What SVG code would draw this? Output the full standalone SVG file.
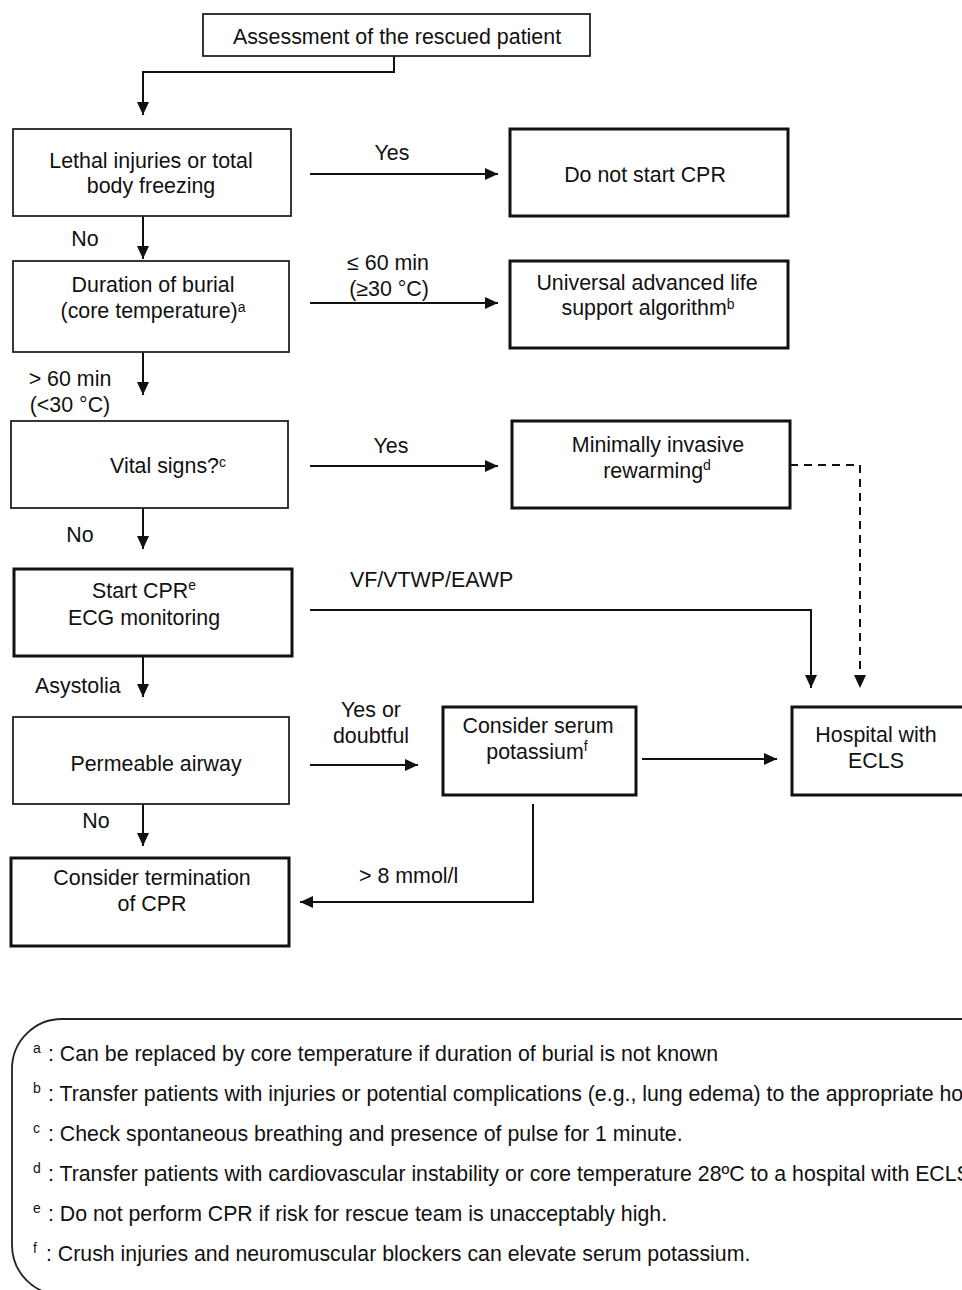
<svg xmlns="http://www.w3.org/2000/svg" width="962" height="1290" viewBox="0 0 962 1290">
<style>
text{font-family:"Liberation Sans",Arial,sans-serif;font-size:21.4px;fill:#111}
.mid{text-anchor:middle}
.thin{fill:#fff;stroke:#222;stroke-width:1.8}
.thick{fill:#fff;stroke:#111;stroke-width:3}
.con{fill:none;stroke:#111;stroke-width:2;marker-end:url(#ah)}
.dash{stroke-dasharray:8 6}
.sup{font-size:14px}
.fn{font-size:21.3px}
</style>
<defs>
<marker id="ah" viewBox="0 0 13 12" refX="13" refY="6" markerWidth="13" markerHeight="12" markerUnits="userSpaceOnUse" orient="auto">
<path d="M0,0 L13,6 L0,12 z" fill="#111"/>
</marker>
</defs>
<rect width="962" height="1290" fill="#fff"/>

<g id="connectors">
<path class="con" d="M394,56 V72 H143 V115"/>
<path class="con" d="M310,174 H498"/>
<path class="con" d="M143,216 V259"/>
<path class="con" d="M310,303 H498"/>
<path class="con" d="M143,352 V395"/>
<path class="con" d="M310,466 H498"/>
<path class="con" d="M143,508 V549"/>
<path class="con dash" d="M790,465 H860 V688"/>
<path class="con" d="M310,610 H811 V688"/>
<path class="con" d="M143,656 V697"/>
<path class="con" d="M310,765 H418"/>
<path class="con" d="M642,759 H777"/>
<path class="con" d="M143,804 V846"/>
<path class="con" d="M533,804 V902 H300"/>
</g>

<g id="labels">
<text class="mid" x="392" y="160">Yes</text>
<text class="mid" x="85" y="246">No</text>
<text class="mid" x="388" y="270">≤ 60 min</text>
<text class="mid" x="389" y="296">(≥30 °C)</text>
<text class="mid" x="70" y="386">&gt; 60 min</text>
<text class="mid" x="70" y="412">(&lt;30 °C)</text>
<text class="mid" x="391" y="453">Yes</text>
<text class="mid" x="80" y="542">No</text>
<text x="350" y="587">VF/VTWP/EAWP</text>
<text x="35" y="693">Asystolia</text>
<text class="mid" x="371" y="717">Yes or</text>
<text class="mid" x="371" y="743">doubtful</text>
<text class="mid" x="96" y="828">No</text>
<text x="359" y="883">&gt; 8 mmol/l</text>
</g>

<g id="n-assess">
<rect class="thin" x="203" y="14" width="387" height="42"/>
<text class="mid" x="397" y="44">Assessment of the rescued patient</text>
</g>

<g id="n-lethal">
<rect class="thin" x="13" y="129" width="278" height="87"/>
<text class="mid" x="151" y="168">Lethal injuries or total</text>
<text class="mid" x="151" y="193">body freezing</text>
</g>

<g id="n-donot">
<rect class="thick" x="510" y="129" width="278" height="87"/>
<text class="mid" x="645" y="182">Do not start CPR</text>
</g>

<g id="n-duration">
<rect class="thin" x="13" y="261" width="276" height="91"/>
<text class="mid" x="153" y="292">Duration of burial</text>
<text class="mid" x="153" y="318">(core temperature)<tspan class="sup" dy="-6">a</tspan></text>
</g>

<g id="n-universal">
<rect class="thick" x="510" y="261" width="278" height="87"/>
<text class="mid" x="647" y="290">Universal advanced life</text>
<text class="mid" x="648" y="315">support algorithm<tspan class="sup" dy="-6">b</tspan></text>
</g>

<g id="n-vital">
<rect class="thin" x="11" y="421" width="277" height="87"/>
<text x="110" y="473">Vital signs?<tspan class="sup" dy="-6">c</tspan></text>
</g>

<g id="n-minimal">
<rect class="thick" x="512" y="421" width="278" height="87"/>
<text class="mid" x="658" y="452">Minimally invasive</text>
<text class="mid" x="657" y="478">rewarming<tspan class="sup" dy="-8">d</tspan></text>
</g>

<g id="n-startcpr">
<rect class="thick" x="14" y="569" width="278" height="87"/>
<text class="mid" x="144" y="598">Start CPR<tspan class="sup" dy="-8">e</tspan></text>
<text class="mid" x="144" y="625">ECG monitoring</text>
</g>

<g id="n-airway">
<rect class="thin" x="13" y="717" width="276" height="87"/>
<text class="mid" x="156" y="771">Permeable airway</text>
</g>

<g id="n-potassium">
<rect class="thick" x="443" y="707" width="193" height="88"/>
<text class="mid" x="538" y="733">Consider serum</text>
<text class="mid" x="537" y="759">potassium<tspan class="sup" dy="-8">f</tspan></text>
</g>

<g id="n-hospital">
<rect class="thick" x="792" y="707" width="200" height="88"/>
<text class="mid" x="876" y="742">Hospital with</text>
<text class="mid" x="876" y="768">ECLS</text>
</g>

<g id="n-termination">
<rect class="thick" x="11" y="858" width="278" height="88"/>
<text class="mid" x="152" y="885">Consider termination</text>
<text class="mid" x="152" y="911">of CPR</text>
</g>

<g id="footnotes">
<rect x="12" y="1019" width="1000" height="276" rx="50" ry="50" fill="none" stroke="#222" stroke-width="1.8"/>
<text class="fn" x="33" y="1061"><tspan class="sup" dy="-8">a</tspan><tspan x="48" dy="8">: Can be replaced by core temperature if duration of burial is not known</tspan></text>
<text class="fn" x="33" y="1101"><tspan class="sup" dy="-8">b</tspan><tspan x="48" dy="8">: Transfer patients with injuries or potential complications (e.g., lung edema) to the appropriate ho</tspan></text>
<text class="fn" x="33" y="1141"><tspan class="sup" dy="-8">c</tspan><tspan x="48" dy="8">: Check spontaneous breathing and presence of pulse for 1 minute.</tspan></text>
<text class="fn" x="33" y="1181"><tspan class="sup" dy="-8">d</tspan><tspan x="48" dy="8">: Transfer patients with cardiovascular instability or core temperature 28ºC to a hospital with ECLS</tspan></text>
<text class="fn" x="33" y="1221"><tspan class="sup" dy="-8">e</tspan><tspan x="48" dy="8">: Do not perform CPR if risk for rescue team is unacceptably high.</tspan></text>
<text class="fn" x="33" y="1261"><tspan class="sup" dy="-8">f</tspan><tspan x="46" dy="8">: Crush injuries and neuromuscular blockers can elevate serum potassium.</tspan></text>
</g>
</svg>
